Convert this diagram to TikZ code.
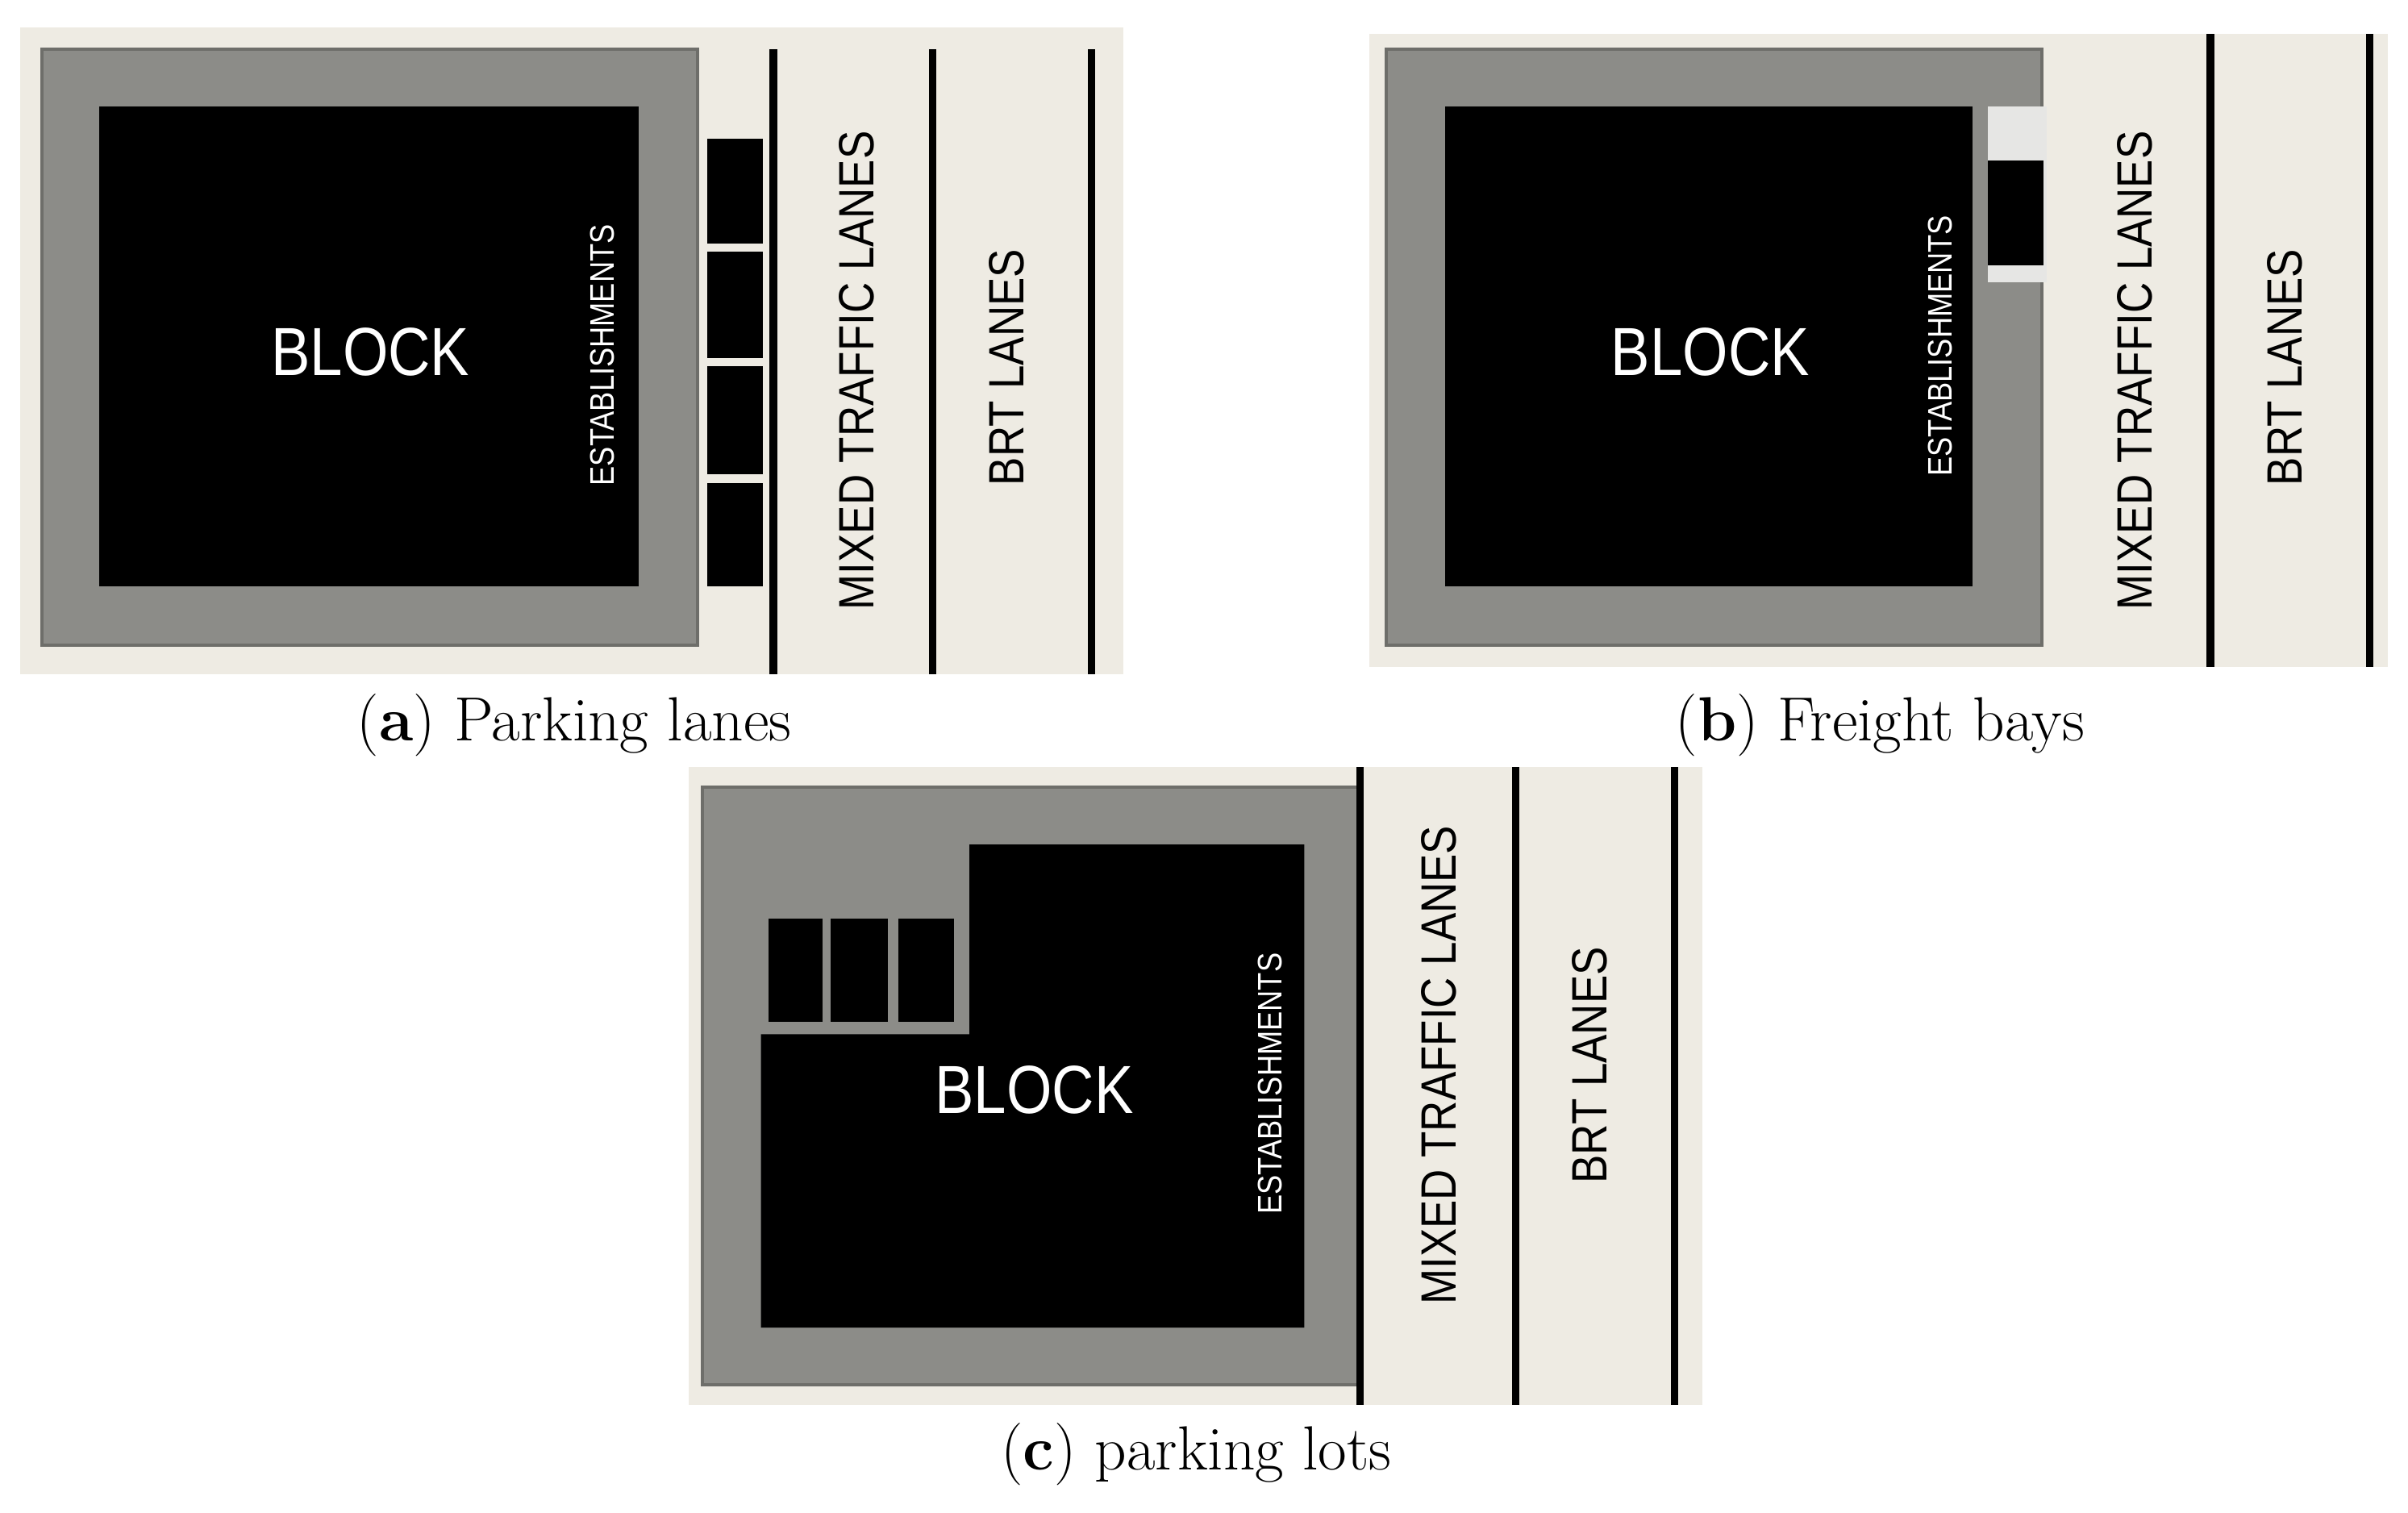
\documentclass[tikz,border=0pt]{standalone}
\usepackage{fontspec}
\newfontfamily\lab{Liberation Sans}[FakeStretch=0.86]
\definecolor{bg}{HTML}{EEEBE3}
\definecolor{fr}{HTML}{8C8C88}
\definecolor{frb}{HTML}{6E6E6A}
\definecolor{lg}{HTML}{E6E6E4}
\begin{document}
\begin{tikzpicture}[x=0.01914cm,y=-0.01914cm,
  frame/.style={fill=fr,draw=frb,line width=1.2pt},
  blk/.style={fill=black},
  lane/.style={line width=2.6pt},
  est/.style={text=white,font=\lab\fontsize{12}{14}\selectfont,rotate=90},
  blt/.style={text=white,font=\lab\fontsize{24}{28}\selectfont},
  lt/.style={font=\lab\fontsize{17.5}{20}\selectfont,rotate=90},
  captext/.style={font=\fontsize{22}{26}\selectfont}]
\useasboundingbox (0,0) rectangle (1560,980);
% (a)
\fill[bg] (13,18) rectangle (728,437);
\draw[frame] (27,32) rectangle (452,418);
\fill[blk] (64,69) rectangle (414,380);
\foreach \a/\b in {90/158,163/232,237/307,313/380} \fill[black] (458,\a) rectangle (494,\b);
\foreach \x in {501,604,707} \draw[lane] (\x,32) -- (\x,437);
\node[blt] (ba) at (240,228) {BLOCK};
\node[est] (ea) at (390,230) {ESTABLISHMENTS};
\node[lt] (ma) at (555,240) {MIXED TRAFFIC LANES};
\node[lt] (ra) at (652,238) {BRT LANES};
\node[captext] (ca) at (372,470) {(\textbf{a}) Parking lanes};
% (b)
\fill[bg] (887,22) rectangle (1547,432);
\draw[frame] (898,32) rectangle (1323,418);
\fill[blk] (936,69) rectangle (1278,380);
\fill[lg] (1288,69) rectangle (1326,183);
\fill[black] (1288,104) rectangle (1324,172);
\foreach \x in {1432,1535} \draw[lane] (\x,22) -- (\x,432);
\node[blt] (bb) at (1108,228) {BLOCK};
\node[est] (eb) at (1257,224) {ESTABLISHMENTS};
\node[lt] (mb) at (1383,240) {MIXED TRAFFIC LANES};
\node[lt] (rb) at (1480,238) {BRT LANES};
\node[captext] (cb) at (1218,470) {(\textbf{b}) Freight bays};
% (c)
\fill[bg] (446,497) rectangle (1103,910);
\draw[frame] (455,510) rectangle (880,897);
\fill[blk] (628,547) -- (845,547) -- (845,860) -- (493,860) -- (493,670) -- (628,670) -- cycle;
\foreach \a/\b in {498/533,538/575,582/618} \fill[black] (\a,595) rectangle (\b,662);
\foreach \x in {881,982,1085} \draw[lane] (\x,497) -- (\x,910);
\node[blt] (bc) at (670,706) {BLOCK};
\node[est] (ec) at (823,702) {ESTABLISHMENTS};
\node[lt] (mc) at (932,690) {MIXED TRAFFIC LANES};
\node[lt] (rc) at (1030,690) {BRT LANES};
\node[captext] (cc) at (775,942) {(\textbf{c}) parking lots};
\end{tikzpicture}
\end{document}
